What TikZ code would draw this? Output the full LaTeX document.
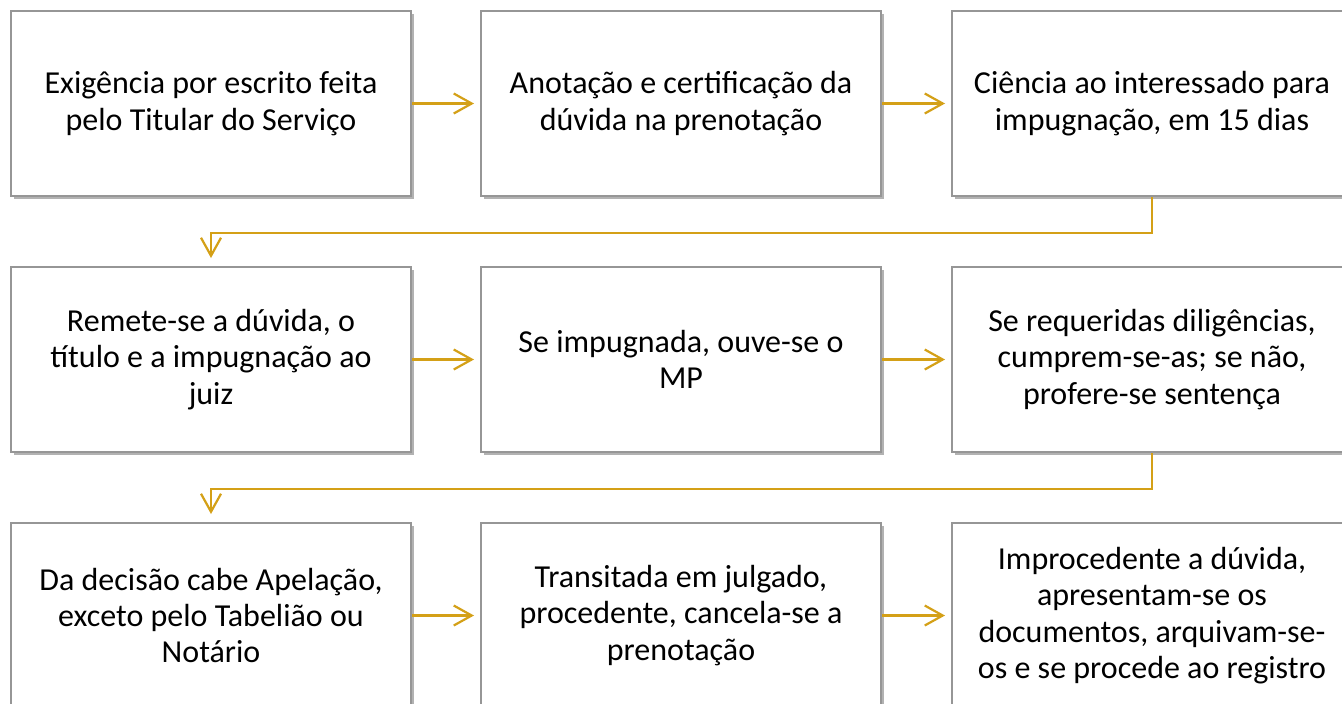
\documentclass[tikz,border=0pt]{standalone}
\usepackage{fontspec}
\setmainfont{Carlito}
\usetikzlibrary{arrows.meta,shadows}
\definecolor{gold}{RGB}{212,160,23}
\definecolor{boxgray}{RGB}{150,150,150}
\begin{document}
\begin{tikzpicture}[x=0.5pt,y=-0.5pt,
 stepbox/.style={draw=boxgray, line width=1pt, fill=white, minimum width=200pt, minimum height=92.5pt, inner sep=0pt, align=center, font=\fontsize{16}{18.2}\selectfont, drop shadow={shadow xshift=1.5pt, shadow yshift=-1.5pt, opacity=0.3, fill=black}},
 flow/.style={draw=gold, line width=1.1pt, -{Straight Barb[length=9pt,width=10pt,line width=1.1pt]}, shorten >=3pt}]
\useasboundingbox (0,0) rectangle (1342,703);
\clip (0,0) rectangle (1342,703);
\fill[white] (0,0) rectangle (1342,703);
\node[stepbox] (a1) at (211,103.5) {Exigência por escrito feita\\pelo Titular do Serviço};
\node[stepbox] (a2) at (681,103.5) {Anotação e certificação da\\dúvida na prenotação};
\node[stepbox] (a3) at (1152,103.5) {Ciência ao interessado para\\impugnação, em 15 dias};
\node[stepbox] (b1) at (211,359.5) {Remete-se a dúvida, o\\título e a impugnação ao\\juiz};
\node[stepbox] (b2) at (681,359.5) {Se impugnada, ouve-se o\\MP};
\node[stepbox] (b3) at (1152,359.5) {Se requeridas diligências,\\cumprem-se-as; se não,\\profere-se sentença};
\node[stepbox] (c1) at (211,615.5) {Da decisão cabe Apelação,\\exceto pelo Tabelião ou\\Notário};
\node[stepbox] (c2) at (681,615.5) {Transitada em julgado,\\procedente, cancela-se a\\prenotação};
\node[stepbox] (c3) at (1152,615.5) {Improcedente a dúvida,\\apresentam-se os\\documentos, arquivam-se-\\os e se procede ao registro};
\draw[flow] (a1.east) -- (a2.west);
\draw[flow] (a2.east) -- (a3.west);
\draw[flow] (b1.east) -- (b2.west);
\draw[flow] (b2.east) -- (b3.west);
\draw[flow] (c1.east) -- (c2.west);
\draw[flow] (c2.east) -- (c3.west);
\draw[flow, shorten >=4pt] (a3.south) -- ++(0,36) -| (b1.north);
\draw[flow, shorten >=4pt] (b3.south) -- ++(0,36) -| (c1.north);
\end{tikzpicture}
\end{document}
